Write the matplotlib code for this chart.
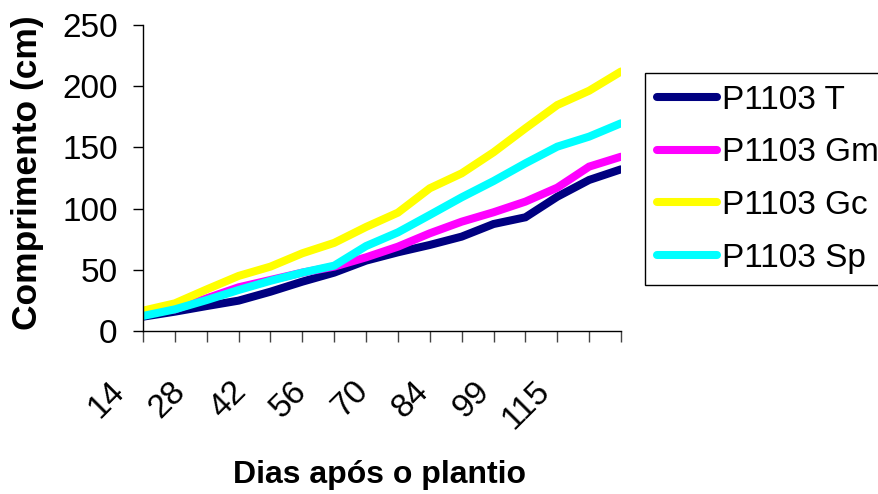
import matplotlib
matplotlib.use("Agg")
import matplotlib.pyplot as plt
from matplotlib.transforms import ScaledTranslation

plt.rcParams['font.family'] = ['Liberation Sans', 'DejaVu Sans']

days = [14, 21, 28, 35, 42, 49, 56, 63, 70, 77, 84, 92, 99, 107, 115, 122]

t_vals = [11.7, 15.8, 20.4, 24.8, 32.1, 40.3, 47.7, 57.5, 64.3, 70.3, 77.1, 87.4, 92.9, 109.7, 123.4, 132.1]
gm_vals = [15.8, 17.7, 26.7, 35.7, 41.7, 47.7, 52.6, 60.2, 68.9, 79.8, 89.3, 97.0, 105.7, 117.1, 134.3, 142.4]
gc_vals = [16.6, 22.6, 34.0, 45.0, 52.6, 63.5, 72.0, 85.0, 96.7, 116.6, 128.8, 146.0, 165.6, 184.6, 196.3, 212.0]
sp_vals = [12.3, 17.7, 25.3, 33.5, 41.0, 47.7, 53.4, 69.4, 80.6, 94.8, 109.2, 122.5, 137.0, 150.6, 158.8, 169.7]

series = [
    ('P1103 T', t_vals, '#000080'),
    ('P1103 Gm', gm_vals, '#FF00FF'),
    ('P1103 Gc', gc_vals, '#FFFF00'),
    ('P1103 Sp', sp_vals, '#00FFFF'),
]

W, H = 879, 494
fig = plt.figure(figsize=(W / 100, H / 100), dpi=100)
ax = fig.add_axes([143 / W, 1 - 331 / H, (621 - 143) / W, (331 - 25) / H])

x = list(range(len(days)))
for name, vals, color in series:
    ax.plot(x, vals, color=color, lw=5.8, label=name, solid_capstyle='round', solid_joinstyle='miter')

ax.set_xlim(0, len(days) - 1)
ax.set_ylim(0, 250)
ax.set_yticks([0, 50, 100, 150, 200, 250])
ax.set_xticks(x)
labels = []
for i, d in enumerate(days):
    labels.append(str(d) if i % 2 == 0 else '')
ax.set_xticklabels(labels, rotation=45, ha='right', va='top', fontsize=24)

for s in ['top', 'right']:
    ax.spines[s].set_visible(False)
for s in ['left', 'bottom']:
    ax.spines[s].set_linewidth(1.0)
    ax.spines[s].set_color('black')

ax.tick_params(axis='x', direction='out', length=7.9, width=1, color='#444444', pad=24)
ax.tick_params(axis='y', direction='out', length=7.2, width=1, color='black', pad=11, labelsize=24)

k = 0
for lbl in ax.get_xticklabels():
    if lbl.get_text():
        dx = -(12 + 3 * k) / 100
        lbl.set_transform(lbl.get_transform() + ScaledTranslation(dx, 0, fig.dpi_scale_trans))
        k += 1

fig.text(27.5 / W, 1 - 173 / H, 'Comprimento (cm)', rotation=90, ha='center', va='center',
         fontsize=25.5, fontweight='bold')
fig.text(380 / W, 1 - 483 / H, 'Dias após o plantio', ha='center', va='baseline',
         fontsize=23, fontweight='bold')

leg = fig.legend(loc='upper left', bbox_to_anchor=(645 / W, 1 - 73 / H), borderaxespad=0,
                 fontsize=24, handlelength=1.8, handletextpad=0.15, labelspacing=0.65,
                 borderpad=0.35, fancybox=False, framealpha=1, edgecolor='black')
leg.get_frame().set_linewidth(1.0)

fig.savefig('out.png', dpi=100)
